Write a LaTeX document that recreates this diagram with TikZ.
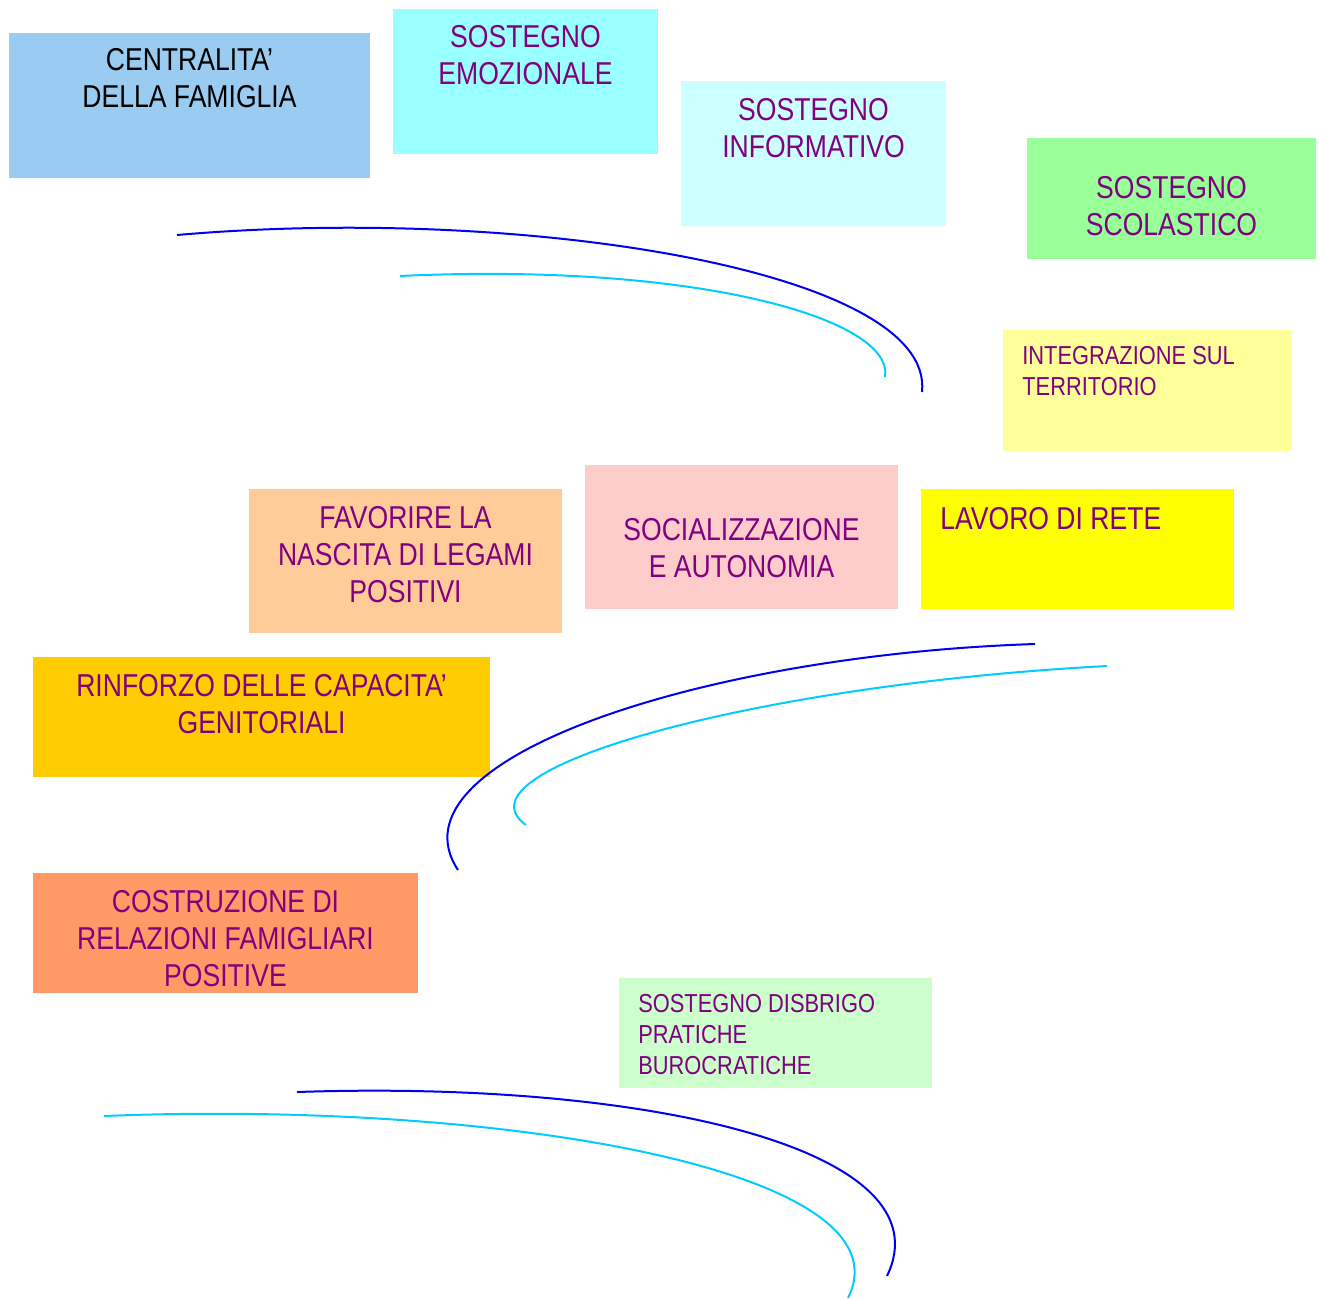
\documentclass[tikz,border=0pt]{standalone}
\usepackage{fontspec}
\setmainfont{Liberation Sans}[FakeStretch=0.84]
\usetikzlibrary{fit}

\definecolor{celeste}{HTML}{99CCF0}
\definecolor{acqua}{HTML}{99FFFF}
\definecolor{acquachiaro}{HTML}{CCFFFF}
\definecolor{verde}{HTML}{99FF99}
\definecolor{giallino}{HTML}{FFFF99}
\definecolor{pesca}{HTML}{FFCC99}
\definecolor{rosa}{HTML}{FFCCCC}
\definecolor{giallo}{HTML}{FFFF00}
\definecolor{oro}{HTML}{FFCC00}
\definecolor{salmone}{HTML}{FF9966}
\definecolor{verdino}{HTML}{CCFFCC}
\definecolor{viola}{HTML}{800080}
\definecolor{blu}{HTML}{0000EE}
\definecolor{ciano}{HTML}{00CCFF}

\newlength\pxu
\setlength\pxu{0.02cm}

\begin{document}
\begin{tikzpicture}
	[x=0.02cm, y=-0.02cm,
	blocco/.style={inner sep=0pt, outer sep=0pt},
	titolo/.style={anchor=north, inner sep=0pt, align=center, text=viola,
		font=\fontsize{18}{21}\selectfont},
	titolosx/.style={anchor=north west, inner sep=0pt, align=left, text=viola,
		font=\fontsize{18}{21}\selectfont, xshift=19\pxu},
	piccolo/.style={anchor=north west, inner sep=0pt, align=left, text=viola,
		font=\fontsize{14.8}{17.5}\selectfont, xshift=19\pxu},
	arco/.style={line width=2\pxu}]
	\useasboundingbox (0,0) rectangle (1321,1298);
	\node[blocco, fill=celeste, fit={(9,33)(370,178)},
		label={[titolo, text=black, yshift=-15\pxu]north:CENTRALITA’\\DELLA FAMIGLIA}] (famiglia) {};
	\node[blocco, fill=acqua, fit={(393,9)(658,154)},
		label={[titolo, yshift=-16\pxu]north:SOSTEGNO\\EMOZIONALE}] (emozionale) {};
	\node[blocco, fill=acquachiaro, fit={(681,81)(946,226)},
		label={[titolo, yshift=-17\pxu]north:SOSTEGNO\\INFORMATIVO}] (informativo) {};
	\node[blocco, fill=verde, fit={(1027,138)(1316,259)},
		label={[titolo, yshift=-38\pxu]north:SOSTEGNO\\SCOLASTICO}] (scolastico) {};
	\node[blocco, fill=giallino, fit={(1003,330)(1292,451)},
		label={[piccolo, yshift=-16\pxu]north west:INTEGRAZIONE SUL\\TERRITORIO}] (territorio) {};
	\node[blocco, fill=pesca, fit={(249,489)(562,633)},
		label={[titolo, yshift=-17\pxu]north:FAVORIRE LA\\NASCITA DI LEGAMI\\POSITIVI}] (legami) {};
	\node[blocco, fill=rosa, fit={(585,465)(898,609)},
		label={[titolo, yshift=-53\pxu]north:SOCIALIZZAZIONE\\E AUTONOMIA}] (autonomia) {};
	\node[blocco, fill=giallo, fit={(921,489)(1234,609)},
		label={[titolosx, yshift=-18\pxu]north west:LAVORO DI RETE}] (rete) {};
	\node[blocco, fill=oro, fit={(33,657)(490,777)},
		label={[titolo, yshift=-17\pxu]north:RINFORZO DELLE CAPACITA’\\GENITORIALI}] (genitoriali) {};
	\node[blocco, fill=salmone, fit={(33,873)(418,993)},
		label={[titolo, yshift=-17\pxu]north:COSTRUZIONE DI\\RELAZIONI FAMIGLIARI\\POSITIVE}] (relazioni) {};
	\node[blocco, fill=verdino, fit={(619,978)(932,1088)},
		label={[piccolo, yshift=-16\pxu]north west:SOSTEGNO DISBRIGO\\PRATICHE\\BUROCRATICHE}] (pratiche) {};
	% archi
	\draw[arco, blu] (177,235) .. controls (520,205) and (935,270) .. (922,392);
	\draw[arco, ciano] (400,276) .. controls (700,262) and (895,320) .. (885,377);
	\draw[arco, blu] (1035,644) .. controls (700,655) and (385,760) .. (458,870);
	\draw[arco, ciano] (1107,666) .. controls (750,685) and (450,770) .. (526,825);
	\draw[arco, blu] (297,1092) .. controls (650,1080) and (948,1150) .. (887,1276);
	\draw[arco, ciano] (104,1116) .. controls (500,1100) and (912,1170) .. (848,1298);
\end{tikzpicture}
\end{document}
